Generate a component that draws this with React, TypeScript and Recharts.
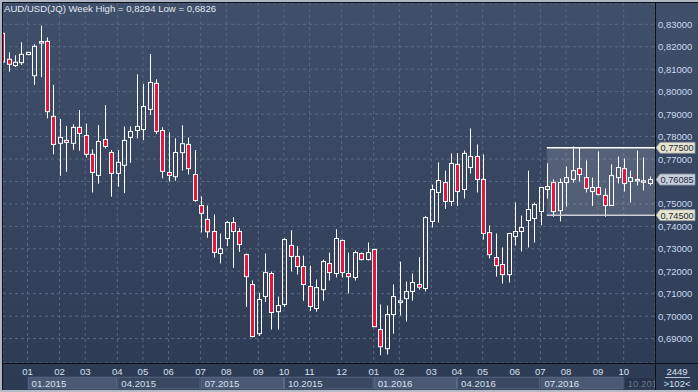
import React from "react";
import {
  ComposedChart,
  Bar,
  XAxis,
  YAxis,
  CartesianGrid,
  ReferenceArea,
  ReferenceLine,
} from "recharts";

// AUD/USD weekly candles, Dec 2014 .. Oct 2016 (102 bars)
const opens = [
  0.8260, 0.8144, 0.8116, 0.8129, 0.8165, 0.8071, 0.8217, 0.8224, 0.7890, 0.7770,
  0.7783, 0.7770, 0.7841, 0.7805, 0.7721, 0.7627, 0.7787, 0.7729, 0.7636, 0.7672,
  0.7796, 0.7827, 0.7831, 0.7921, 0.8037, 0.7827, 0.7640, 0.7621, 0.7728, 0.7765,
  0.7631, 0.7493, 0.7431, 0.7377, 0.7279, 0.7346, 0.7417, 0.7377, 0.7274, 0.7141,
  0.6922, 0.7087, 0.7190, 0.7020, 0.7052, 0.7315, 0.7266, 0.7221, 0.7132, 0.7034,
  0.7118, 0.7234, 0.7190, 0.7337, 0.7190, 0.7172, 0.7279, 0.7252, 0.7297, 0.6940,
  0.6855, 0.7007, 0.7065, 0.7078, 0.7110, 0.7141, 0.7123, 0.7422, 0.7551, 0.7595,
  0.7511, 0.7676, 0.7564, 0.7662, 0.7711, 0.7609, 0.7372, 0.7261, 0.7230, 0.7185,
  0.7355, 0.7377, 0.7426, 0.7435, 0.7466, 0.7564, 0.7595, 0.7470, 0.7595, 0.7609,
  0.7657, 0.7617, 0.7555, 0.7573, 0.7538, 0.7493, 0.7617, 0.7657, 0.7600, 0.7606,
  0.7600, 0.7591,
];
const highs = [
  0.8270, 0.8175, 0.8162, 0.8220, 0.8177, 0.8211, 0.8294, 0.8242, 0.8030, 0.7878,
  0.7847, 0.7855, 0.7918, 0.7857, 0.7743, 0.7851, 0.7940, 0.7740, 0.7740, 0.7845,
  0.7845, 0.8077, 0.8034, 0.8168, 0.8055, 0.7841, 0.7819, 0.7792, 0.7850, 0.7796,
  0.7740, 0.7533, 0.7493, 0.7453, 0.7368, 0.7423, 0.7441, 0.7392, 0.7279, 0.7159,
  0.7104, 0.7279, 0.7199, 0.7087, 0.7347, 0.7383, 0.7312, 0.7270, 0.7225, 0.7163,
  0.7252, 0.7283, 0.7387, 0.7341, 0.7283, 0.7292, 0.7283, 0.7328, 0.7301, 0.7052,
  0.7047, 0.7141, 0.7243, 0.7154, 0.7190, 0.7263, 0.7445, 0.7586, 0.7685, 0.7648,
  0.7725, 0.7725, 0.7738, 0.7836, 0.7765, 0.7720, 0.7404, 0.7368, 0.7306, 0.7371,
  0.7506, 0.7448, 0.7648, 0.7506, 0.7576, 0.7680, 0.7609, 0.7613, 0.7666, 0.7756,
  0.7751, 0.7694, 0.7617, 0.7734, 0.7569, 0.7676, 0.7711, 0.7703, 0.7648, 0.7738,
  0.7707, 0.7622,
];
const lows = [
  0.8120, 0.8089, 0.8110, 0.8119, 0.8163, 0.8030, 0.8065, 0.7881, 0.7721, 0.7625,
  0.7643, 0.7741, 0.7737, 0.7706, 0.7551, 0.7590, 0.7747, 0.7532, 0.7576, 0.7548,
  0.7683, 0.7792, 0.7784, 0.7896, 0.7811, 0.7614, 0.7599, 0.7603, 0.7648, 0.7631,
  0.7510, 0.7373, 0.7349, 0.7260, 0.7235, 0.7312, 0.7215, 0.7286, 0.7041, 0.6906,
  0.6912, 0.7063, 0.6940, 0.6940, 0.7041, 0.7199, 0.7185, 0.7068, 0.7023, 0.7020,
  0.7068, 0.7159, 0.7172, 0.7172, 0.7101, 0.7159, 0.7248, 0.7248, 0.6952, 0.6826,
  0.6829, 0.6922, 0.7003, 0.6976, 0.7069, 0.7118, 0.7110, 0.7395, 0.7417, 0.7478,
  0.7491, 0.7491, 0.7524, 0.7635, 0.7551, 0.7341, 0.7257, 0.7176, 0.7145, 0.7150,
  0.7315, 0.7288, 0.7306, 0.7328, 0.7405, 0.7524, 0.7443, 0.7422, 0.7488, 0.7595,
  0.7600, 0.7551, 0.7491, 0.7538, 0.7443, 0.7491, 0.7591, 0.7555, 0.7506, 0.7582,
  0.7560, 0.7582,
];
const closes = [
  0.8132, 0.8122, 0.8131, 0.8166, 0.8175, 0.8202, 0.8223, 0.7911, 0.7765, 0.7796,
  0.7774, 0.7841, 0.7814, 0.7721, 0.7640, 0.7778, 0.7756, 0.7636, 0.7685, 0.7783,
  0.7823, 0.7845, 0.7934, 0.8041, 0.7823, 0.7645, 0.7627, 0.7729, 0.7768, 0.7657,
  0.7515, 0.7458, 0.7376, 0.7284, 0.7300, 0.7417, 0.7377, 0.7319, 0.7176, 0.6909,
  0.7074, 0.7194, 0.7016, 0.7047, 0.7341, 0.7266, 0.7221, 0.7141, 0.7043, 0.7127,
  0.7243, 0.7194, 0.7346, 0.7194, 0.7176, 0.7283, 0.7252, 0.7283, 0.6953, 0.6864,
  0.7007, 0.7087, 0.7068, 0.7110, 0.7150, 0.7129, 0.7439, 0.7564, 0.7604, 0.7511,
  0.7680, 0.7555, 0.7725, 0.7711, 0.7609, 0.7368, 0.7274, 0.7225, 0.7185, 0.7368,
  0.7377, 0.7395, 0.7475, 0.7497, 0.7573, 0.7577, 0.7466, 0.7595, 0.7617, 0.7648,
  0.7631, 0.7569, 0.7573, 0.7542, 0.7493, 0.7626, 0.7662, 0.7591, 0.7617, 0.7609,
  0.7603, 0.76085,
];

// first bar of each month, and the month labels under them
const monthTicks = [4, 9, 13, 18, 22, 26, 31, 35, 40, 44, 48, 53, 58, 62, 67, 71, 75, 80, 84, 88, 93, 97];
const monthLabels = ["01", "02", "03", "04", "05", "06", "07", "08", "09", "10", "11", "12",
  "01", "02", "03", "04", "05", "06", "07", "08", "09", "10"];
const quarterStarts = [4, 18, 31, 44, 58, 71, 84, 97];
const quarterLabels = ["01.2015", "04.2015", "07.2015", "10.2015", "01.2016", "04.2016", "07.2016", "10.2016"];

const priceTicks = [0.69, 0.7, 0.71, 0.72, 0.73, 0.74, 0.75, 0.76, 0.77, 0.78, 0.79, 0.8, 0.81, 0.82, 0.83];

const channelStart = 85;
const channelTop = 0.775;
const channelBottom = 0.745;
const lastPrice = 0.76085;

const XMIN = 0.17;
const XMAX = 101.88;
const RED = "#e3173e";
const FONT = "'Liberation Sans', Arial, sans-serif";

const data = opens.map((o, i) => ({
  i,
  open: o,
  high: highs[i],
  low: lows[i],
  close: closes[i],
  range: [lows[i], highs[i]],
}));

const fmt = (v: number) => v.toFixed(5).replace(".", ",");

const Candle = (props: any) => {
  const { x, y, width, height, payload } = props;
  if (!payload || height == null) return null;
  const { open, close, high, low } = payload;
  const cx = Math.round(x + width / 2) + 0.5;
  const k = height / (high - low);
  const yO = y + (high - open) * k;
  const yC = y + (high - close) * k;
  const top = Math.min(yO, yC);
  const bh = Math.max(Math.abs(yO - yC), 1.5);
  const up = close >= open;
  return (
    <g>
      <line x1={cx} x2={cx} y1={y} y2={top} stroke="#ffffff" strokeWidth={1} />
      <line x1={cx} x2={cx} y1={top + bh} y2={y + height} stroke="#ffffff" strokeWidth={1} />
      <rect x={cx - 2} y={top} width={4} height={bh} fill={up ? "none" : RED} stroke="#ffffff" strokeWidth={1} />
    </g>
  );
};

const MonthTick = (p: any) => {
  const v = p.payload.value;
  const x = p.x;
  const label = monthLabels[monthTicks.indexOf(v)];
  const q = quarterStarts.indexOf(v);
  let box = null;
  if (q >= 0) {
    const pxPer = (p.width || 652) / (XMAX - XMIN);
    const next = q + 1 < quarterStarts.length ? quarterStarts[q + 1] : XMAX;
    const w = (next - v) * pxPer;
    const last = q === quarterStarts.length - 1;
    const light = q % 2 === 0;
    box = (
      <svg x={x} y={376.5} width={w} height={13} overflow="hidden">
        <rect x={0.5} y={0.5} width={w - 1} height={12} fill={last ? "#27334a" : light ? "#4a5873" : "#3a4862"} stroke={last ? "#3a4660" : "#5d6b86"} />
        <text x={4} y={10} fontSize={9.6} fontFamily={FONT} fill={last ? "#6b7891" : "#d6e0f0"}>
          {quarterLabels[q]}
        </text>
      </svg>
    );
  }
  return (
    <g>
      {box}
      <text x={x} y={375} textAnchor="middle" fontSize={9.6} fontFamily={FONT} fill="#d6e0f0">
        {label}
      </text>
    </g>
  );
};

const PriceTick = (p: any) => {
  const v = p.payload.value;
  // the last-price tag sits on top of this label in the terminal
  if (Math.abs(v - lastPrice) < 0.004) return <g />;
  return (
    <text x={658} y={p.y + 3.5} fontSize={9.5} fontFamily={FONT} fill="#cbd9ef">
      {fmt(v)}
    </text>
  );
};

const PriceTag = ({ viewBox, value, fill }: any) => {
  if (!viewBox) return null;
  const y = viewBox.y;
  return (
    <g>
      <polygon
        points={`656,${y} 660,${y - 5.5} 695,${y - 5.5} 695,${y + 5.5} 660,${y + 5.5}`}
        fill={fill}
        stroke="#8d96a6"
        strokeWidth={0.8}
      />
      <text x={660.5} y={y + 3.5} fontSize={9.2} fontFamily={FONT} fill="#1d2a42">
        {fmt(value)}
      </text>
    </g>
  );
};

export default function App() {
  return (
    <div
      style={{
        position: "absolute",
        left: 0,
        top: 0,
        width: 698,
        height: 392,
        background: "linear-gradient(180deg, #404f6a 0%, #36445f 55%, #2c3a54 100%)",
        overflow: "hidden",
      }}
    >
      <ComposedChart
        width={698}
        height={392}
        data={data}
        margin={{ top: 3, right: 0, bottom: 0, left: 3 }}
      >
        <CartesianGrid stroke="#5a6883" strokeDasharray="3 3" />
        <XAxis
          dataKey="i"
          type="number"
          domain={[XMIN, XMAX]}
          allowDataOverflow
          ticks={monthTicks}
          interval={0}
          axisLine={false}
          tickLine={false}
          height={29}
          tick={(p: any) => <MonthTick {...p} />}
        />
        <YAxis
          orientation="right"
          type="number"
          domain={[0.67913, 0.83949]}
          allowDataOverflow
          ticks={priceTicks}
          interval={0}
          axisLine={false}
          tickLine={false}
          width={43}
          tick={(p: any) => <PriceTick {...p} />}
        />
        <ReferenceArea
          x1={channelStart}
          x2={XMAX}
          y1={channelBottom}
          y2={channelTop}
          fill="#ffffff"
          fillOpacity={0.14}
          stroke="none"
        />
        <Bar dataKey="range" barSize={5} shape={<Candle />} isAnimationActive={false} />
        <ReferenceLine
          segment={[{ x: channelStart, y: channelTop }, { x: XMAX, y: channelTop }]}
          stroke="#ffffff"
          strokeWidth={1.5}
          label={{ content: (p: any) => <PriceTag viewBox={p.viewBox} value={channelTop} fill="#e6e4cc" /> }}
        />
        <ReferenceLine
          segment={[{ x: channelStart, y: channelBottom }, { x: XMAX, y: channelBottom }]}
          stroke="#c9ced8"
          strokeWidth={1.5}
          label={{ content: (p: any) => <PriceTag viewBox={p.viewBox} value={channelBottom} fill="#e6e4cc" /> }}
        />
        <ReferenceLine
          y={lastPrice}
          stroke="none"
          label={{ content: (p: any) => <PriceTag viewBox={p.viewBox} value={lastPrice} fill="#c8d0dc" /> }}
        />
      </ComposedChart>

      {/* frame lines */}
      <div style={{ position: "absolute", left: 0, top: 0, width: 698, height: 2, background: "#aeb6c5" }} />
      <div style={{ position: "absolute", left: 0, top: 2, width: 698, height: 1, background: "#0c0f16" }} />
      <div style={{ position: "absolute", left: 0, top: 0, width: 2, height: 392, background: "#aeb6c5" }} />
      <div style={{ position: "absolute", left: 2, top: 2, width: 1, height: 390, background: "#0c0f16" }} />
      <div style={{ position: "absolute", left: 0, top: 390, width: 698, height: 2, background: "#b4bbc8" }} />
      <div style={{ position: "absolute", left: 3, top: 363, width: 695, height: 1, background: "#0c0f16" }} />
      <div style={{ position: "absolute", left: 655, top: 3, width: 1, height: 387, background: "#0c0f16" }} />

      <div
        style={{
          position: "absolute",
          left: 4,
          top: 3,
          fontFamily: FONT,
          fontSize: 9.6,
          color: "#e2e9f4",
          whiteSpace: "nowrap",
        }}
      >
        AUD/USD(JQ) Week High = 0,8294 Low = 0,6826
      </div>

      <div style={{ position: "absolute", left: 656, top: 366, width: 42, textAlign: "center", fontFamily: FONT, fontSize: 9.5, color: "#d6e0f0" }}>
        2449
      </div>
      <div style={{ position: "absolute", left: 665, top: 377, width: 25, height: 1, background: "#b8c2d4" }} />
      <div style={{ position: "absolute", left: 656, top: 378, width: 42, textAlign: "center", fontFamily: FONT, fontSize: 9.5, color: "#d6e0f0" }}>
        &gt;102&lt;
      </div>
    </div>
  );
}
